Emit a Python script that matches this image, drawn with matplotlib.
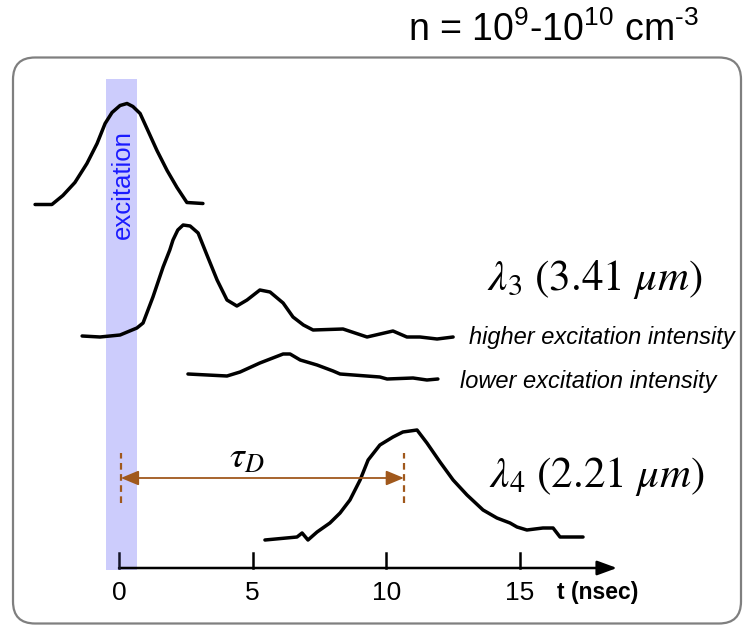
import matplotlib
matplotlib.use("Agg")
import matplotlib.pyplot as plt
from matplotlib.patches import FancyBboxPatch, Rectangle

plt.rcParams["mathtext.fontset"] = "custom"
plt.rcParams["mathtext.rm"] = "Liberation Sans"
plt.rcParams["mathtext.it"] = "Liberation Sans:italic"
plt.rcParams["font.family"] = ["Liberation Sans", "DejaVu Sans"]

# ---- traces: time (ns) and signal amplitude above each trace's own baseline (a.u.)
pulse_t = [-3.14, -2.51, -2.10, -1.65, -1.20, -0.82, -0.52, -0.26, 0.04, 0.30,
           0.52, 0.79, 1.08, 1.42, 1.80, 2.17, 2.54, 3.14]
pulse_s = [0.0, 0.0, 0.9, 2.2, 4.1, 6.1, 8.1, 9.2, 9.9, 10.1,
           9.8, 9.1, 7.4, 5.4, 3.4, 1.7, 0.2, 0.1]

l3_high_t = [-1.38, -0.71, 0.04, 0.67, 0.90, 1.27, 1.65, 1.90, 2.02, 2.20, 2.40, 2.66,
             2.96, 3.29, 3.67, 4.04, 4.41, 4.79, 5.27, 5.65, 6.14, 6.51,
             6.90, 7.26, 8.38, 9.28, 10.25, 10.77, 11.26, 11.90, 12.50]
l3_high_s = [0.0, -0.1, 0.1, 0.8, 1.3, 3.9, 6.9, 8.6, 9.6, 10.6, 11.1, 11.0,
             10.3, 8.1, 5.6, 3.6, 3.0, 3.6, 4.6, 4.4, 3.3, 1.9,
             1.1, 0.6, 0.7, -0.1, 0.5, -0.1, -0.1, -0.3, -0.1]

l3_low_t = [2.58, 4.04, 4.53, 5.27, 6.14, 6.40, 6.78, 7.41, 8.01, 8.27,
            9.76, 10.03, 11.00, 11.52, 11.93]
l3_low_s = [0.1, -0.1, 0.3, 1.2, 2.1, 2.1, 1.5, 1.0, 0.4, 0.1,
            -0.2, -0.4, -0.3, -0.5, -0.4]

l4_t = [5.46, 6.66, 6.85, 7.07, 7.41, 7.89, 8.27, 8.64, 9.02, 9.32,
        9.76, 10.25, 10.62, 11.15, 11.52, 12.01, 12.50, 13.02, 13.62, 14.14,
        14.63, 14.89, 15.26, 15.86, 16.24, 16.50, 17.36]
l4_s = [0.0, 0.3, 0.7, 0.0, 0.8, 1.7, 2.7, 4.0, 6.0, 8.0,
        9.5, 10.3, 10.8, 11.0, 9.7, 7.8, 6.0, 4.5, 3.0, 2.2,
        1.7, 1.3, 1.0, 1.2, 1.2, 0.3, 0.3]

tick_values = [0, 5, 10, 15]
tick_labels = ["0", "5", "10", "15"]
tau_d = 10.6            # delay between excitation and λ4 maximum (ns)
excitation_window = (-0.49, 0.67)

# vertical stacking of the traces
offsets = {"pulse": 36.35, "l3_high": 23.2, "l3_low": 19.3, "l4": 2.8}

fig = plt.figure(figsize=(7.45, 6.26), dpi=100)
ax = fig.add_axes([0, 0, 1, 1])
ax.set_xlim(-4.452, 23.42)
ax.set_ylim(-5.8, 56.8)
ax.axis("off")

# rounded frame
frame = FancyBboxPatch((0.13, 0.025), 7.28, 5.66,
                       boxstyle="round,pad=0,rounding_size=0.22",
                       transform=fig.dpi_scale_trans, facecolor="none",
                       edgecolor="#7f7f7f", linewidth=1.6, zorder=-1)
fig.patches.append(frame)

# excitation window
ax.add_patch(Rectangle((excitation_window[0], -0.2),
                       excitation_window[1] - excitation_window[0], 49.1,
                       facecolor="#ccccfc", edgecolor="none", zorder=1))
ax.text(0.15, 38.3, "excitation", rotation=90, color="#1a1aff",
        fontsize=18.5, ha="center", va="center", zorder=3)

# traces
line_kw = dict(color="black", linewidth=2.5, solid_joinstyle="round",
               solid_capstyle="round", zorder=4)
ax.plot(pulse_t, [s + offsets["pulse"] for s in pulse_s], **line_kw)
ax.plot(l3_high_t, [s + offsets["l3_high"] for s in l3_high_s], **line_kw)
ax.plot(l3_low_t, [s + offsets["l3_low"] for s in l3_low_s], **line_kw)
ax.plot(l4_t, [s + offsets["l4"] for s in l4_s], **line_kw)

# time axis with arrow
ax.annotate("", xy=(18.63, 0), xytext=(0, 0),
            arrowprops=dict(arrowstyle="-|>,head_length=0.6,head_width=0.22",
                            mutation_scale=20, color="black", linewidth=1.8,
                            shrinkA=0, shrinkB=0), zorder=4)
for tv, tl in zip(tick_values, tick_labels):
    ax.plot([tv, tv], [0, 1.5], color="#141428" if tv == 0 else "black",
            linewidth=1.8, zorder=4)
    ax.text(tv, -2.45, tl, ha="center", va="center", fontsize=19,
            family=["Liberation Sans Narrow", "Liberation Sans"])
ax.text(16.39, -2.45, "t (nsec)", ha="left", va="center", fontsize=16.5,
        fontweight="bold", family=["Liberation Sans Narrow", "Liberation Sans"])

# delay marker
brown = "#a0581c"
ax.annotate("", xy=(0.07, 9.0), xytext=(tau_d + 0.06, 9.0),
            arrowprops=dict(arrowstyle="<|-|>,head_length=0.6,head_width=0.25",
                            mutation_scale=18, color=brown, linewidth=1.3,
                            shrinkA=0, shrinkB=0), zorder=5)
for xv in (0.07, tau_d + 0.06):
    ax.plot([xv, xv], [6.5, 11.5], color=brown, linewidth=1.6,
            linestyle=(0, (3, 2)), zorder=5)
ax.text(4.79, 11.0, r"$\tau_D$", fontsize=27, ha="center", va="center",
        math_fontfamily="stix")

# labels
ax.text(17.8, 28.8, r"$\lambda_3\ (3.41\ \mu m)$", fontsize=31,
        ha="center", va="center", math_fontfamily="stix")
ax.text(17.88, 9.1, r"$\lambda_4\ (2.21\ \mu m)$", fontsize=31,
        ha="center", va="center", math_fontfamily="stix")
ax.text(13.09, 23.0, "higher excitation intensity", fontsize=17,
        style="italic", ha="left", va="center")
ax.text(12.76, 18.6, "lower excitation intensity", fontsize=17,
        style="italic", ha="left", va="center")
ax.text(16.24, 53.8, "n = 10$^{\\mathrm{9}}$-10$^{\\mathrm{10}}$ cm$^{\\mathrm{\u20103}}$",
        fontsize=27, ha="center", va="center")

fig.savefig("out.png", dpi=100)
